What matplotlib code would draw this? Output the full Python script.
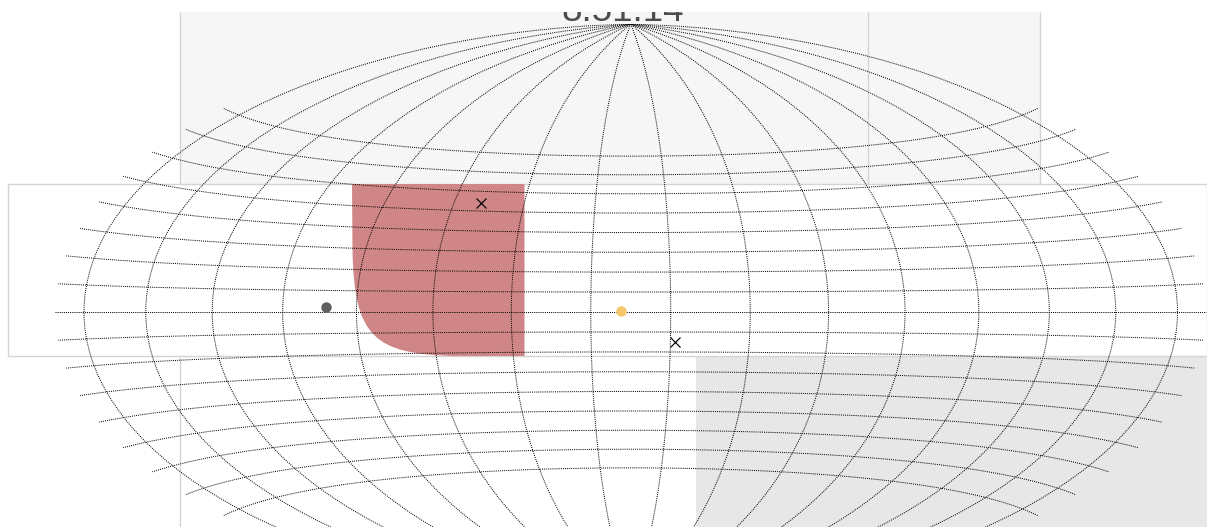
import numpy as np
import matplotlib
matplotlib.use("Agg")
import matplotlib.pyplot as plt
from matplotlib.patches import Rectangle, PathPatch
from matplotlib.path import Path
from matplotlib.ticker import FixedLocator, NullFormatter

W, H = 1207, 527

# Data: clock label, graticule (degrees), sky objects (lon, lat in degrees)
clock_text = "8:51:14"
meridians_deg = [-168.75, -146.25, -123.75, -101.25, -78.75, -56.25, -33.75, -11.25,
                 11.25, 33.75, 56.25, 78.75, 101.25, 123.75, 146.25, 168.75]
parallels_deg = [-45, -39.375, -33.75, -28.125, -22.5, -16.875, -11.25, -5.625, 0,
                 5.625, 11.25, 16.875, 22.5, 28.125, 33.75, 39.375, 45]
dark_lon, dark_lat = [-87.85], [1.25]
sun_lon, sun_lat = [-2.7], [0.2]
cross_lon, cross_lat = [-47.5, 12.64], [30.4, -8.43]

# Page-like background panels, in pixels
panel_top = (180, 12, 860, 172)
panel_mid = (8, 184, 1199, 172)
panel_br = (696, 356, 511, 171)
divider_xs = [180, 868, 1040]

fig = plt.figure(figsize=(W / 100, H / 100), dpi=100, facecolor="white")

bg = fig.add_axes([0, 0, 1, 1], zorder=0)
bg.set_xlim(0, W)
bg.set_ylim(H, 0)
bg.axis("off")

EDGE = "#d4d4d4"
bg.add_patch(Rectangle(panel_top[:2], *panel_top[2:], fc="#f6f6f6", ec="none", zorder=1))
bg.vlines(divider_xs, 12, 184, color=EDGE, lw=1.0, zorder=2)
bg.add_patch(Rectangle(panel_mid[:2], *panel_mid[2:], fc="white", ec=EDGE, lw=1.0, zorder=3))
bg.vlines([180], 357, H, color=EDGE, lw=1.0, zorder=2)
bg.add_patch(Rectangle(panel_br[:2], *panel_br[2:], fc="#e7e7e7", ec="none", zorder=2))

# Clock text, cut off at the top of the panel
bg.text(623, 21.0, clock_text, family="Liberation Sans", fontsize=26.5, color="#4d4d4d",
        ha="center", va="baseline", zorder=4)
bg.add_patch(Rectangle((0, 0), W, 12, fc="white", ec="none", zorder=5))

# Red rounded region
verts = [(352, 184), (524.5, 184), (524.5, 356), (455, 356),
         (375, 354), (354, 338), (352.5, 250), (352, 184)]
codes = [Path.MOVETO, Path.LINETO, Path.LINETO, Path.LINETO,
         Path.CURVE4, Path.CURVE4, Path.CURVE4, Path.CLOSEPOLY]
bg.add_patch(PathPatch(Path(verts, codes), fc="#d08686", ec="none", zorder=6))

# Hammer sky map
ax = fig.add_axes([55 / W, (H - 600) / H, 1151.5 / W, 576 / H], projection="hammer", zorder=1)
ax.set_aspect("auto")
ax.patch.set_visible(False)
for s in ax.spines.values():
    s.set_visible(False)
ax.set_longitude_grid_ends(90)
ax.xaxis.set_major_locator(FixedLocator(np.radians(meridians_deg)))
ax.yaxis.set_major_locator(FixedLocator(np.radians(parallels_deg)))
ax.xaxis.set_major_formatter(NullFormatter())
ax.yaxis.set_major_formatter(NullFormatter())
ax.tick_params(length=0)
ax.grid(True, color="black", lw=0.72, linestyle=(0, (1, 1.1)))

ax.plot(np.radians(dark_lon), np.radians(dark_lat), "o", ms=7.5, mfc="#5f5f5f", mec="none", zorder=5)
ax.plot(np.radians(sun_lon), np.radians(sun_lat), "o", ms=7.5, mfc="#f5c76b", mec="none", zorder=5)
ax.plot(np.radians(cross_lon), np.radians(cross_lat), "x", ms=7.2, mec="black", mew=0.85, zorder=5)

fig.savefig("out.png", dpi=100)
